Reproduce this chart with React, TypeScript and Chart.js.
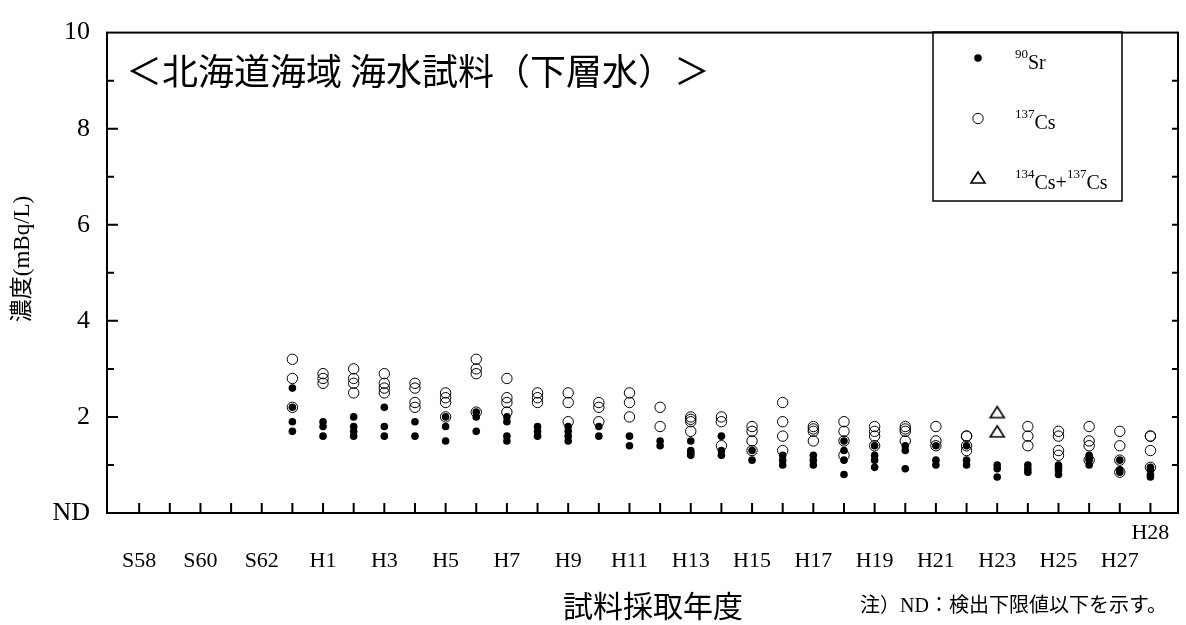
import React, { useEffect, useRef } from 'react';
import { Chart, registerables } from 'chart.js';

Chart.register(...registerables);

const yearLabels = [
  'S58', 'S59', 'S60', 'S61', 'S62', 'S63',
  'H1', 'H2', 'H3', 'H4', 'H5', 'H6', 'H7', 'H8', 'H9', 'H10',
  'H11', 'H12', 'H13', 'H14', 'H15', 'H16', 'H17', 'H18', 'H19', 'H20',
  'H21', 'H22', 'H23', 'H24', 'H25', 'H26', 'H27', 'H28',
];

// 90Sr (mBq/L) per fiscal year
const sr90: number[][] = [
  [], [], [], [], [],
  [2.6, 2.2, 1.9, 1.7],      // S63
  [1.9, 1.8, 1.6],           // H1
  [2.0, 1.8, 1.7, 1.6],      // H2
  [2.2, 1.8, 1.6],           // H3
  [1.9, 1.6],                // H4
  [2.0, 1.8, 1.5],           // H5
  [2.1, 2.0, 1.7],           // H6
  [2.0, 1.9, 1.6, 1.5],      // H7
  [1.8, 1.7, 1.6],           // H8
  [1.8, 1.7, 1.6, 1.5],      // H9
  [1.8, 1.6],                // H10
  [1.6, 1.4],                // H11
  [1.5, 1.4],                // H12
  [1.5, 1.3, 1.25, 1.2],     // H13
  [1.6, 1.3, 1.2],           // H14
  [1.3, 1.1],                // H15
  [1.2, 1.1, 1.0],           // H16
  [1.2, 1.1, 1.0],           // H17
  [1.5, 1.3, 1.1, 0.8],      // H18
  [1.4, 1.2, 1.1, 0.95],     // H19
  [1.4, 1.3, 0.92],          // H20
  [1.4, 1.1, 1.0],           // H21
  [1.4, 1.1, 1.0],           // H22
  [1.0, 0.92, 0.75],         // H23
  [1.0, 0.92, 0.85],         // H24
  [1.0, 0.95, 0.9, 0.8],     // H25
  [1.2, 1.15, 1.1, 1.0],     // H26
  [1.1, 0.9, 0.85],          // H27
  [0.95, 0.9, 0.8, 0.75],    // H28
];

// 137Cs (mBq/L) per fiscal year
const cs137: number[][] = [
  [], [], [], [], [],
  [3.2, 2.8, 2.2],           // S63
  [2.9, 2.8, 2.7],           // H1
  [3.0, 2.8, 2.7, 2.5],      // H2
  [2.9, 2.7, 2.6, 2.5],      // H3
  [2.7, 2.6, 2.3, 2.2],      // H4
  [2.5, 2.4, 2.3, 2.0],      // H5
  [3.2, 3.0, 2.9, 2.1],      // H6
  [2.8, 2.4, 2.3, 2.1],      // H7
  [2.5, 2.4, 2.3],           // H8
  [2.5, 2.3, 1.9],           // H9
  [2.3, 2.2, 1.9],           // H10
  [2.5, 2.3, 2.0],           // H11
  [2.2, 1.8],                // H12
  [2.0, 1.95, 1.9, 1.7],     // H13
  [2.0, 1.9, 1.4],           // H14
  [1.8, 1.7, 1.5, 1.3],      // H15
  [2.3, 1.9, 1.6, 1.3],      // H16
  [1.8, 1.75, 1.7, 1.5],     // H17
  [1.9, 1.7, 1.5, 1.2],      // H18
  [1.8, 1.7, 1.6, 1.4],      // H19
  [1.8, 1.75, 1.7, 1.5],     // H20
  [1.8, 1.5, 1.4],           // H21
  [1.6, 1.6, 1.4, 1.3],      // H22
  [],                        // H23
  [1.8, 1.6, 1.4],           // H24
  [1.7, 1.6, 1.3, 1.2],      // H25
  [1.8, 1.5, 1.4, 1.1],      // H26
  [1.7, 1.4, 1.1, 0.85],     // H27
  [1.6, 1.6, 1.3, 0.95],     // H28
];

// 134Cs+137Cs (mBq/L), only H23
const cs134137: number[][] = [
  [], [], [], [], [], [], [], [], [], [], [], [], [], [], [], [], [], [], [], [], [], [], [], [], [], [], [], [],
  [2.1, 1.7],                // H23
  [], [], [], [], [],
];

const yTickValues = [0, 2, 4, 6, 8, 10];

const SERIF = "'Liberation Serif', 'Noto Sans CJK JP', serif";
const CJK = "'Noto Sans CJK JP', 'Liberation Serif', sans-serif";

function toPoints(series: number[][]) {
  const pts: { x: number; y: number }[] = [];
  series.forEach((vals, i) => vals.forEach((v) => pts.push({ x: i, y: v })));
  return pts;
}

function makeTriangle(): HTMLCanvasElement {
  const c = document.createElement('canvas');
  c.width = 18;
  c.height = 15;
  const g = c.getContext('2d')!;
  g.strokeStyle = '#000';
  g.lineWidth = 1.6;
  g.beginPath();
  g.moveTo(9, 2);
  g.lineTo(2, 13);
  g.lineTo(16, 13);
  g.closePath();
  g.stroke();
  return c;
}

const decoPlugin = {
  id: 'deco',
  afterDraw(chart: any) {
    const ctx: CanvasRenderingContext2D = chart.ctx;
    const { left, right, top, bottom } = chart.chartArea;
    const xs = chart.scales.x;
    const ys = chart.scales.y;
    ctx.save();
    ctx.strokeStyle = '#000';
    ctx.fillStyle = '#000';

    // frame
    ctx.lineWidth = 2;
    ctx.strokeRect(left, top, right - left, bottom - top);

    // inward ticks
    ctx.beginPath();
    for (let v = 1; v < 10; v++) {
      const y = ys.getPixelForValue(v);
      const len = v % 2 === 0 ? 11 : 7;
      ctx.moveTo(left, y);
      ctx.lineTo(left + len, y);
      ctx.moveTo(right, y);
      ctx.lineTo(right - 6, y);
    }
    for (let i = 0; i < yearLabels.length; i++) {
      const x = xs.getPixelForValue(i);
      ctx.moveTo(x, bottom);
      ctx.lineTo(x, bottom - 10);
    }
    ctx.stroke();

    // title inside plot
    ctx.textBaseline = 'middle';
    ctx.textAlign = 'left';
    ctx.font = `36px ${CJK}`;
    ctx.fillText('＜北海道海域 海水試料（下層水）＞', 126, 71);

    // y axis title
    ctx.save();
    ctx.translate(23, 259);
    ctx.rotate(-Math.PI / 2);
    ctx.textAlign = 'center';
    ctx.font = `23px ${SERIF}`;
    ctx.fillText('濃度(mBq/L)', 0, 0);
    ctx.restore();

    // x axis title
    ctx.textAlign = 'center';
    ctx.font = `30px ${CJK}`;
    ctx.fillText('試料採取年度', 653, 606);

    // note
    ctx.textAlign = 'left';
    ctx.font = `20px ${SERIF}`;
    ctx.fillText('注）ND：検出下限値以下を示す。', 860, 607);

    // legend box
    ctx.lineWidth = 1.5;
    ctx.strokeRect(933, 32, 189, 169);
    // markers
    ctx.beginPath();
    ctx.arc(978, 58, 3.8, 0, Math.PI * 2);
    ctx.fill();
    ctx.lineWidth = 1;
    ctx.beginPath();
    ctx.arc(978, 118.5, 5.2, 0, Math.PI * 2);
    ctx.stroke();
    ctx.lineWidth = 1.6;
    ctx.beginPath();
    ctx.moveTo(978, 172);
    ctx.lineTo(971, 183);
    ctx.lineTo(985, 183);
    ctx.closePath();
    ctx.stroke();

    // legend texts with superscripts
    ctx.textBaseline = 'alphabetic';
    const drawParts = (parts: [string, boolean][], x0: number, base: number) => {
      let x = x0;
      for (const [t, sup] of parts) {
        ctx.font = sup ? `13px ${SERIF}` : `20px ${SERIF}`;
        ctx.fillText(t, x, sup ? base - 11 : base);
        x += ctx.measureText(t).width;
      }
    };
    drawParts([['90', true], ['Sr', false]], 1015, 69);
    drawParts([['137', true], ['Cs', false]], 1015, 129);
    drawParts([['134', true], ['Cs+', false], ['137', true], ['Cs', false]], 1015, 189);

    ctx.restore();
  },
};

export default function App() {
  const canvasRef = useRef<HTMLCanvasElement | null>(null);

  useEffect(() => {
    const canvas = canvasRef.current;
    if (!canvas) return;
    const tri = makeTriangle();
    const chart = new Chart(canvas, {
      type: 'scatter',
      data: {
        datasets: [
          {
            label: '90Sr',
            data: toPoints(sr90),
            pointStyle: 'circle',
            pointRadius: 3.8,
            pointBackgroundColor: '#000',
            pointBorderColor: '#000',
            pointBorderWidth: 0,
          },
          {
            label: '137Cs',
            data: toPoints(cs137),
            pointStyle: 'circle',
            pointRadius: 5.2,
            pointBackgroundColor: 'rgba(0,0,0,0)',
            pointBorderColor: '#000',
            pointBorderWidth: 1,
          },
          {
            label: '134Cs+137Cs',
            data: toPoints(cs134137),
            pointStyle: tri as any,
            pointRadius: 7,
          },
        ],
      },
      options: {
        responsive: false,
        animation: false,
        devicePixelRatio: 1,
        layout: { padding: { left: 0, right: 5, top: 26, bottom: 0 } },
        plugins: {
          legend: { display: false },
          tooltip: { enabled: false },
        },
        scales: {
          x: {
            type: 'linear',
            min: -1.05,
            max: 33.9,
            grid: { display: false, drawTicks: false },
            border: { display: false },
            afterBuildTicks: (scale: any) => {
              scale.ticks = yearLabels.map((_, i) => ({ value: i }));
            },
            afterFit: (scale: any) => {
              scale.height = 112;
            },
            ticks: {
              autoSkip: false,
              maxRotation: 0,
              minRotation: 0,
              padding: 6,
              color: '#000',
              font: { family: SERIF, size: 22, lineHeight: 28 / 22 },
              callback: (value: any) => {
                const i = Math.round(Number(value));
                if (i === yearLabels.length - 1) return [yearLabels[i], ''];
                if (i % 2 === 0) return ['', yearLabels[i]];
                return ['', ''];
              },
            },
          },
          y: {
            type: 'linear',
            min: 0,
            max: 10,
            grid: { display: false, drawTicks: false },
            border: { display: false },
            afterBuildTicks: (scale: any) => {
              scale.ticks = yTickValues.map((v) => ({ value: v }));
            },
            afterFit: (scale: any) => {
              scale.width = 107;
            },
            ticks: {
              padding: 17,
              color: '#000',
              font: { family: SERIF, size: 26 },
              callback: (value: any) => (Number(value) === 0 ? 'ND' : String(value)),
            },
          },
        },
      },
      plugins: [decoPlugin],
    });
    return () => chart.destroy();
  }, []);

  return (
    <div style={{ position: 'fixed', left: 0, top: 0, width: 1186, height: 625, background: '#fff' }}>
      <canvas ref={canvasRef} width={1186} height={625} style={{ display: 'block' }} />
    </div>
  );
}
